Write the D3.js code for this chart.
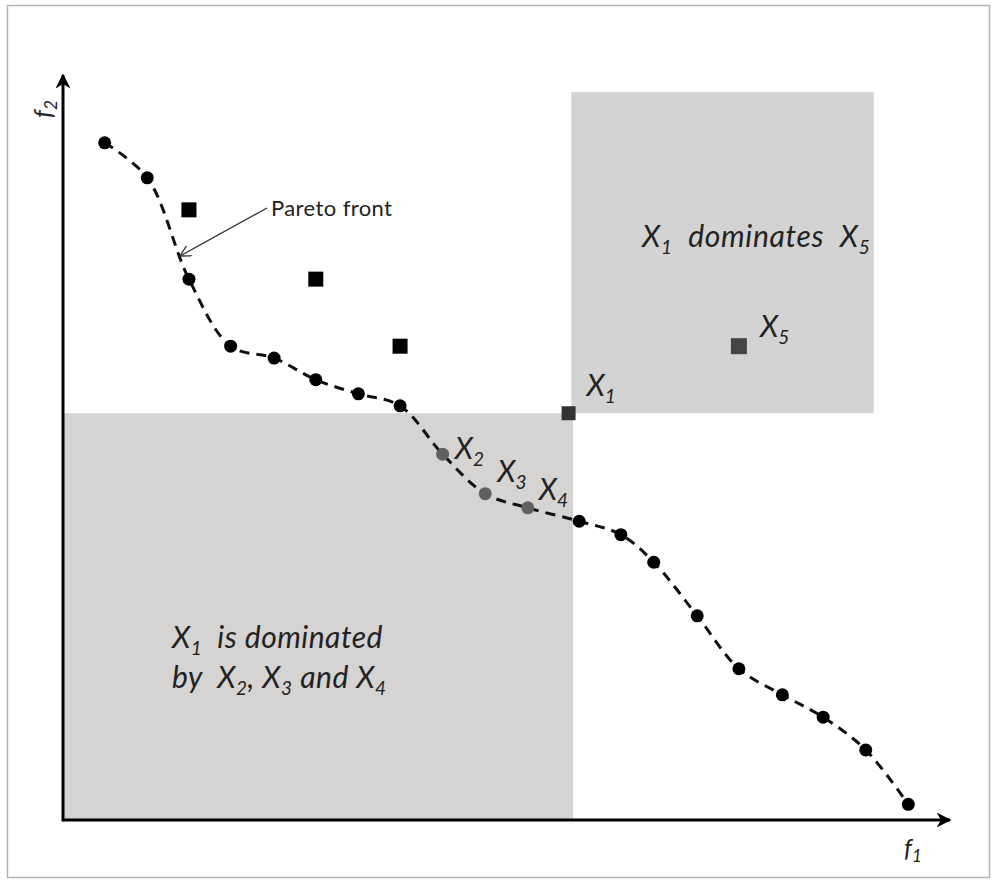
<!DOCTYPE html>
<html>
<head>
<meta charset="utf-8">
<script src="https://cdn.jsdelivr.net/npm/d3@7"></script>
<style>
  body { margin: 0; background: #fff; }
  text { font-family: Lato, "Open Sans", sans-serif; white-space: pre; }
</style>
</head>
<body>
<div id="chart-area"></div>
<script>
// Pareto front points (f1, f2) in arbitrary units 0..100
var frontF1 = [4.7, 9.5, 14.2, 18.9, 23.8, 28.5, 33.3, 38.0, 42.8, 47.6, 52.4, 58.2, 62.9, 66.6, 71.5, 76.2, 81.1, 85.7, 90.5, 95.3];
var frontF2 = [90.9, 86.2, 72.6, 63.6, 62.0, 59.1, 57.2, 55.6, 49.1, 43.8, 41.9, 40.1, 38.3, 34.6, 27.4, 20.3, 16.8, 13.8, 9.4, 2.1];
// indexes of the points X2, X3, X4 (drawn grey)
var greyIdx = [8, 9, 10];
var greyNames = ["2", "3", "4"];

// dominated (non-Pareto) solutions
var squareF1 = [14.2, 28.5, 38.0];
var squareF2 = [81.9, 72.6, 63.6];

// X1 and X5
var x1Point = [57.0, 54.6];
var x5Point = [76.2, 63.6];

// shaded regions
var dominatedBox = { f1: [0, 57.5], f2: [0, 54.6] };
var dominatesBox = { f1: [57.3, 91.4], f2: [54.6, 97.7] };

var W = 997, H = 886;

var svg = d3.select("#chart-area").append("svg")
    .attr("width", W)
    .attr("height", H);

// frame
svg.append("rect")
    .attr("x", 7.5).attr("y", 5.5)
    .attr("width", 982).attr("height", 872)
    .attr("fill", "#fff")
    .attr("stroke", "#b4b4b4")
    .attr("stroke-width", 1.5);

var x = d3.scaleLinear().domain([0, 100]).range([63, 950]);
var y = d3.scaleLinear().domain([0, 100]).range([820, 75]);

// shaded boxes
svg.append("rect")
    .attr("x", x(dominatedBox.f1[0]))
    .attr("y", y(dominatedBox.f2[1]))
    .attr("width", x(dominatedBox.f1[1]) - x(dominatedBox.f1[0]))
    .attr("height", y(dominatedBox.f2[0]) - y(dominatedBox.f2[1]))
    .attr("fill", "#d6d3d3");

svg.append("rect")
    .attr("x", x(dominatesBox.f1[0]))
    .attr("y", y(dominatesBox.f2[1]))
    .attr("width", x(dominatesBox.f1[1]) - x(dominatesBox.f1[0]))
    .attr("height", y(dominatesBox.f2[0]) - y(dominatesBox.f2[1]))
    .attr("fill", "#d3d3d3");

// arrow markers
var defs = svg.append("defs");
defs.append("marker")
    .attr("id", "axisArrow")
    .attr("viewBox", "0 0 10 10")
    .attr("refX", 9).attr("refY", 5)
    .attr("markerWidth", 5).attr("markerHeight", 5)
    .attr("markerUnits", "strokeWidth")
    .attr("orient", "auto")
    .append("path")
    .attr("d", "M0,0 L10,5 L0,10 L3,5 Z")
    .attr("fill", "#000");

defs.append("marker")
    .attr("id", "openArrow")
    .attr("viewBox", "0 0 12 12")
    .attr("refX", 11).attr("refY", 6)
    .attr("markerWidth", 12).attr("markerHeight", 12)
    .attr("markerUnits", "userSpaceOnUse")
    .attr("orient", "auto")
    .append("path")
    .attr("d", "M0,0 L11,6 L0,12")
    .attr("fill", "none")
    .attr("stroke", "#333")
    .attr("stroke-width", 1.3);

// axes
svg.append("line")
    .attr("x1", x(0)).attr("y1", y(0))
    .attr("x2", x(100)).attr("y2", y(0))
    .attr("stroke", "#000").attr("stroke-width", 3)
    .attr("marker-end", "url(#axisArrow)");
svg.append("line")
    .attr("x1", x(0)).attr("y1", y(0) + 1.5)
    .attr("x2", x(0)).attr("y2", y(100))
    .attr("stroke", "#000").attr("stroke-width", 3)
    .attr("marker-end", "url(#axisArrow)");

// axis titles
var f1Label = svg.append("text")
    .attr("x", 904).attr("y", 857)
    .attr("font-size", 25).attr("font-style", "italic")
    .attr("fill", "#222");
f1Label.append("tspan").text("f");
f1Label.append("tspan").attr("dy", 5).attr("font-size", 17).text("1");

var f2Label = svg.append("text")
    .attr("transform", "translate(52,118) rotate(-90)")
    .attr("font-size", 25).attr("font-style", "italic")
    .attr("fill", "#222");
f2Label.append("tspan").text("f");
f2Label.append("tspan").attr("dy", 5).attr("font-size", 17).text("2");

// Pareto front dashed curve
var front = frontF1.map(function (d, i) { return [d, frontF2[i]]; });
var line = d3.line()
    .x(function (d) { return x(d[0]); })
    .y(function (d) { return y(d[1]); })
    .curve(d3.curveCatmullRom.alpha(0.5));

svg.append("path")
    .attr("d", line(front))
    .attr("fill", "none")
    .attr("stroke", "#111")
    .attr("stroke-width", 3)
    .attr("stroke-dasharray", "10,7");

// front points
svg.selectAll(".pt")
    .data(front)
    .enter().append("circle")
    .attr("class", "pt")
    .attr("cx", function (d) { return x(d[0]); })
    .attr("cy", function (d) { return y(d[1]); })
    .attr("r", 6.5)
    .attr("fill", function (d, i) { return greyIdx.indexOf(i) >= 0 ? "#606060" : "#000"; });

// dominated squares
var sq = 15;
svg.selectAll(".sq")
    .data(squareF1)
    .enter().append("rect")
    .attr("class", "sq")
    .attr("x", function (d) { return x(d) - sq / 2; })
    .attr("y", function (d, i) { return y(squareF2[i]) - sq / 2; })
    .attr("width", sq).attr("height", sq)
    .attr("fill", "#000");

svg.append("rect")
    .attr("x", x(x1Point[0]) - 7).attr("y", y(x1Point[1]) - 7)
    .attr("width", 14).attr("height", 14)
    .attr("fill", "#333");
svg.append("rect")
    .attr("x", x(x5Point[0]) - 8).attr("y", y(x5Point[1]) - 8)
    .attr("width", 16).attr("height", 16)
    .attr("fill", "#444");

var labelFont = 30, subFont = 19, subDy = 7;

// helper for X with subscript
function xLabel(sel, sub) {
    sel.append("tspan").text("X");
    sel.append("tspan").attr("dy", subDy).attr("font-size", subFont).text(sub);
}

// X1, X5 labels
var lx1 = svg.append("text")
    .attr("x", x(x1Point[0]) + 18).attr("y", y(x1Point[1]) - 17)
    .attr("font-size", labelFont).attr("font-style", "italic").attr("fill", "#222");
xLabel(lx1, "1");

var lx5 = svg.append("text")
    .attr("x", x(x5Point[0]) + 21).attr("y", y(x5Point[1]) - 9)
    .attr("font-size", labelFont).attr("font-style", "italic").attr("fill", "#222");
xLabel(lx5, "5");

// X2..X4 labels
var greyDx = [12, 12, 11], greyDy = [5, -12, -8];
greyIdx.forEach(function (idx, k) {
    var t = svg.append("text")
        .attr("x", x(frontF1[idx]) + greyDx[k])
        .attr("y", y(frontF2[idx]) + greyDy[k])
        .attr("font-size", labelFont).attr("font-style", "italic").attr("fill", "#222");
    xLabel(t, greyNames[k]);
});

// "X1 dominates X5"
var dom = svg.append("text")
    .attr("x", 642).attr("y", 247)
    .attr("font-size", labelFont).attr("font-style", "italic").attr("fill", "#222")
    .attr("letter-spacing", 0.7);
dom.append("tspan").text("X");
dom.append("tspan").attr("dy", subDy).attr("font-size", subFont).text("1");
dom.append("tspan").attr("dy", -subDy).text("  dominates  X");
dom.append("tspan").attr("dy", subDy).attr("font-size", subFont).text("5");

// "X1 is dominated by X2, X3 and X4"
var t1 = svg.append("text")
    .attr("x", 172).attr("y", 648)
    .attr("font-size", labelFont).attr("font-style", "italic").attr("fill", "#222")
    .attr("letter-spacing", 0.5);
t1.append("tspan").text("X");
t1.append("tspan").attr("dy", subDy).attr("font-size", subFont).text("1");
t1.append("tspan").attr("dy", -subDy).text("  is dominated");

var t2 = svg.append("text")
    .attr("x", 172).attr("y", 688)
    .attr("font-size", labelFont).attr("font-style", "italic").attr("fill", "#222")
    .attr("letter-spacing", 0.5);
t2.append("tspan").text("by  X");
t2.append("tspan").attr("dy", subDy).attr("font-size", subFont).text("2");
t2.append("tspan").attr("dy", -subDy).text(", X");
t2.append("tspan").attr("dy", subDy).attr("font-size", subFont).text("3");
t2.append("tspan").attr("dy", -subDy).text(" and X");
t2.append("tspan").attr("dy", subDy).attr("font-size", subFont).text("4");

// Pareto front annotation
svg.append("line")
    .attr("x1", 267).attr("y1", 208)
    .attr("x2", 180).attr("y2", 256)
    .attr("stroke", "#333").attr("stroke-width", 1.3)
    .attr("marker-end", "url(#openArrow)");

svg.append("text")
    .attr("x", 271).attr("y", 216)
    .attr("font-size", 22)
    .attr("letter-spacing", 0.4)
    .attr("fill", "#222")
    .text("Pareto front");
</script>
</body>
</html>
